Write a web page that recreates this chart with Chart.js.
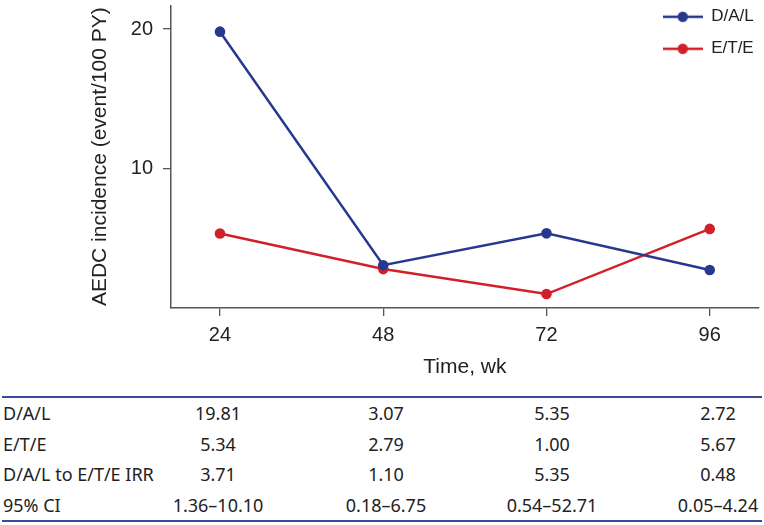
<!DOCTYPE html>
<html>
<head>
<meta charset="utf-8">
<script src="https://cdn.jsdelivr.net/npm/chart.js@4.4.0/dist/chart.umd.min.js"></script>
<style>
  html, body { margin: 0; padding: 0; background: #fff; }
  #wrap { position: relative; width: 764px; height: 525px; }
  #chart { position: absolute; left: 0; top: 0; }
  table {
    position: absolute; left: 2px; top: 396px; width: 760px;
    border-collapse: collapse; table-layout: fixed;
    font-family: "Noto Sans", sans-serif; font-size: 18px; color: #222;
    border-top: 2px solid #3a4a9e; border-bottom: 2px solid #3a4a9e;
  }
  td { height: 30.5px; padding: 0; white-space: nowrap; text-align: center; line-height: 1; }
  td.lab { text-align: left; padding-left: 1px; }
  td.last { padding-left: 40px; }
</style>
</head>
<body>
<div id="wrap">
  <canvas id="chart" width="764" height="390"></canvas>
  <table id="tbl">
    <colgroup>
      <col style="width:132px"><col style="width:168px"><col style="width:168px"><col style="width:164px"><col style="width:128px">
    </colgroup>
    <tbody></tbody>
  </table>
</div>
<script>
"use strict";

// weeks on the x axis
const WEEKS = [24, 48, 72, 96];
// AEDC incidence, event/100 PY
const DAL = [19.81, 3.07, 5.35, 2.72];
const ETE = [5.34, 2.79, 1.00, 5.67];
const IRR = ["3.71", "1.10", "5.35", "0.48"];
const CI95 = ["1.36–10.10", "0.18–6.75", "0.54–52.71", "0.05–4.24"];
const Y_TICKS = [10, 20];

const BLUE = "#27388f";
const RED = "#d2202a";
const FONT = "'Liberation Sans', Arial, sans-serif";

// legend glyph: short line with a dot on it
function legendGlyph(color) {
  const c = document.createElement("canvas");
  c.width = 40;
  c.height = 14;
  const g = c.getContext("2d");
  g.strokeStyle = color;
  g.lineWidth = 2.5;
  g.beginPath();
  g.moveTo(0, 7);
  g.lineTo(40, 7);
  g.stroke();
  g.fillStyle = color;
  g.beginPath();
  g.arc(20, 7, 5.2, 0, Math.PI * 2);
  g.fill();
  return c;
}

function toPoints(vals) {
  return WEEKS.map((w, i) => ({ x: w, y: vals[i] }));
}

function series(label, vals, color) {
  return {
    label,
    data: toPoints(vals),
    borderColor: color,
    backgroundColor: color,
    borderWidth: 2.5,
    pointRadius: 5.3,
    pointBorderWidth: 0,
    pointHoverRadius: 5.3,
    tension: 0,
    glyph: legendGlyph(color),
  };
}

// move the in-plot legend to the top right corner
const legendCorner = {
  id: "legendCorner",
  afterLayout(chart) {
    const lg = chart.legend;
    lg.left = chart.chartArea.right - 111;
    lg.top = chart.chartArea.top - 12;
  },
};

const chart = new Chart(document.getElementById("chart"), {
  type: "line",
  data: {
    datasets: [series("D/A/L", DAL, BLUE), series("E/T/E", ETE, RED)],
  },
  options: {
    responsive: false,
    animation: false,
    layout: { padding: { top: 2, right: 2, left: 0, bottom: 0 } },
    plugins: {
      tooltip: { enabled: false },
      legend: {
        position: "chartArea",
        align: "start",
        labels: {
          color: "#222",
          font: { family: FONT, size: 17 },
          usePointStyle: true,
          pointStyleWidth: 40,
          boxHeight: 14,
          padding: 15,
          generateLabels(chart) {
            const items = Chart.defaults.plugins.legend.labels.generateLabels(chart);
            items.forEach((it) => {
              it.pointStyle = chart.data.datasets[it.datasetIndex].glyph;
            });
            return items;
          },
        },
      },
    },
    scales: {
      x: {
        type: "linear",
        min: 16.8,
        max: 103.2,
        afterBuildTicks: (s) => { s.ticks = WEEKS.map((v) => ({ value: v })); },
        afterFit: (s) => {
          s.height = 82;
          s.paddingLeft = 0;
          s.paddingRight = 0;
        },
        grid: { drawOnChartArea: false, tickLength: 8, color: "#555", lineWidth: 1.3 },
        border: { color: "#555", width: 1.5 },
        ticks: { color: "#222", font: { family: FONT, size: 20 }, padding: 7, maxRotation: 0 },
        title: {
          display: true,
          text: "Time, wk",
          color: "#222",
          font: { family: FONT, size: 21 },
          padding: { top: 0, bottom: 10 },
        },
      },
      y: {
        min: 0,
        max: 21.7,
        afterBuildTicks: (s) => { s.ticks = Y_TICKS.map((v) => ({ value: v })); },
        afterFit: (s) => {
          s.width = 171;
          s.paddingTop = 0;
          s.paddingBottom = 0;
        },
        grid: { drawOnChartArea: false, tickLength: 8, color: "#555", lineWidth: 1.3 },
        border: { color: "#555", width: 1.5 },
        ticks: { color: "#222", font: { family: FONT, size: 20 }, padding: 10 },
        title: {
          display: true,
          text: "AEDC incidence (event/100 PY)",
          color: "#222",
          font: { family: FONT, size: 21 },
          padding: { top: 88, bottom: 0 },
        },
      },
    },
  },
  plugins: [legendCorner],
});

// summary table under the chart
function fillTable() {
  const rows = [
    ["D/A/L", DAL.map((v) => v.toFixed(2))],
    ["E/T/E", ETE.map((v) => v.toFixed(2))],
    ["D/A/L to E/T/E IRR", IRR],
    ["95% CI", CI95],
  ];
  const body = document.querySelector("#tbl tbody");
  for (const [label, vals] of rows) {
    const tr = document.createElement("tr");
    const th = document.createElement("td");
    th.className = "lab";
    th.textContent = label;
    tr.appendChild(th);
    vals.forEach((v, i) => {
      const td = document.createElement("td");
      if (i === vals.length - 1) td.className = "last";
      td.textContent = v;
      tr.appendChild(td);
    });
    body.appendChild(tr);
  }
}

fillTable();
</script>
</body>
</html>
